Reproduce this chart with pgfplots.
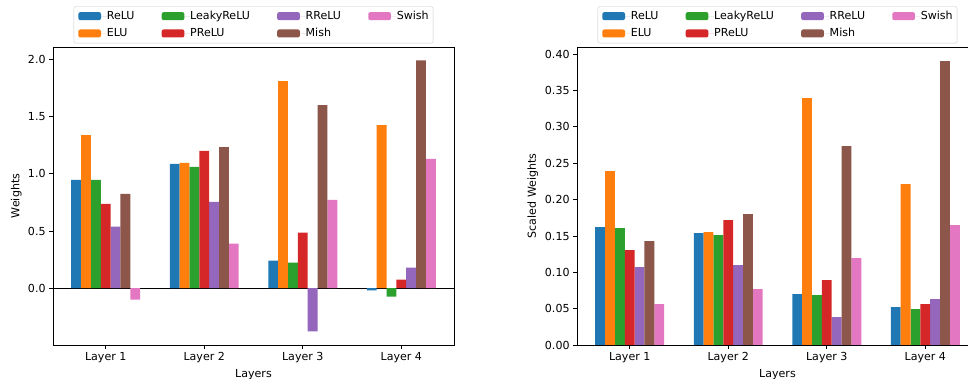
\documentclass[border=0pt]{standalone}
\usepackage{pgfplots}
\pgfplotsset{compat=1.18}
\usepackage{fontspec}
\setmainfont{DejaVu Sans}
\definecolor{cReLU}{HTML}{1F77B4}
\definecolor{cELU}{HTML}{FF7F0E}
\definecolor{cLeaky}{HTML}{2CA02C}
\definecolor{cPReLU}{HTML}{D62728}
\definecolor{cRReLU}{HTML}{9467BD}
\definecolor{cMish}{HTML}{8C564B}
\definecolor{cSwish}{HTML}{E377C2}
\pgfplotsset{
  mystyle/.style={
    scale only axis, width=401bp, height=298bp,
    xmin=-0.535, xmax=3.535,
    xtick={0,1,2,3}, xticklabels={Layer 1,Layer 2,Layer 3,Layer 4},
    tick align=outside, tick pos=lower,
    major tick length=3.9bp,
    axis line style={line width=0.9bp},
    every tick/.style={line width=0.9bp, black},
    font=\fontsize{11.1}{13}\selectfont,
    tick label style={font=\fontsize{11.1}{13}\selectfont},
    label style={font=\fontsize{11.1}{13}\selectfont},
    /pgf/number format/assume math mode=true,
    ybar, bar width=0.1,
    xlabel={Layers},
    legend columns=4,
    legend cell align=left,
    legend image code/.code={\fill[##1] (0bp,-4bp) rectangle (22.7bp,4bp); \path (0bp,0bp) -- (28.5bp,0bp);},
    legend style={at={(0.5,1)}, anchor=south, yshift=3.7bp,
      draw=black!20, rounded corners=2bp, fill=white,
      font=\fontsize{11.1}{13}\selectfont,
      nodes={inner sep=0bp, text height=8.2bp, text depth=2.3bp, font=\fontsize{11.1}{13}\selectfont},
      /tikz/every even column/.append style={column sep=27.2bp},
      row sep=6.8bp,
      inner xsep=4.4bp, inner ysep=4.4bp},
  },
}
\begin{document}
\begin{tikzpicture}
\useasboundingbox (0,0) rectangle (968bp,379bp);
\begin{scope}
\clip (0,0) rectangle (968bp,379bp);
\begin{axis}[mystyle, at={(53bp,34bp)}, anchor=south west,
  ymin=-0.497, ymax=2.11,
  ytick={0,0.5,1,1.5,2},
  yticklabel style={/pgf/number format/.cd, fixed, fixed zerofill, precision=1},
  ylabel={Weights}, ylabel shift=-4.5bp,
  extra y ticks={0}, extra y tick style={grid=major, major grid style={black, line width=0.9bp}, yticklabel=\empty, major tick length=0pt},
]
\addplot[fill=cReLU, draw=none, bar shift=-0.3] coordinates {(0,0.948) (1,1.087) (2,0.241) (3,-0.020)};
\addplot[fill=cLeaky, draw=none, bar shift=-0.1] coordinates {(0,0.948) (1,1.061) (2,0.224) (3,-0.073)};
\addplot[fill=cRReLU, draw=none, bar shift=0.1] coordinates {(0,0.538) (1,0.756) (2,-0.378) (3,0.180)};
\addplot[fill=cSwish, draw=none, bar shift=0.3] coordinates {(0,-0.099) (1,0.390) (2,0.773) (3,1.131)};
\addplot[fill=cELU, draw=none, bar shift=-0.2] coordinates {(0,1.340) (1,1.096) (2,1.811) (3,1.427)};
\addplot[fill=cPReLU, draw=none, bar shift=0] coordinates {(0,0.738) (1,1.201) (2,0.485) (3,0.076)};
\addplot[fill=cMish, draw=none, bar shift=0.2] coordinates {(0,0.826) (1,1.235) (2,1.602) (3,1.994)};
\legend{ReLU,LeakyReLU,RReLU,Swish,ELU,PReLU,Mish}
\end{axis}
\begin{axis}[mystyle, at={(577bp,34bp)}, anchor=south west,
  ymin=0, ymax=0.41,
  ytick={0,0.05,0.1,0.15,0.2,0.25,0.3,0.35,0.4},
  yticklabel style={/pgf/number format/.cd, fixed, fixed zerofill, precision=2},
  ylabel={Scaled Weights},
]
\addplot[fill=cReLU, draw=none, bar shift=-0.3] coordinates {(0,0.1622) (1,0.1540) (2,0.0701) (3,0.0522)};
\addplot[fill=cLeaky, draw=none, bar shift=-0.1] coordinates {(0,0.1608) (1,0.1512) (2,0.0687) (3,0.0495)};
\addplot[fill=cRReLU, draw=none, bar shift=0.1] coordinates {(0,0.1072) (1,0.1100) (2,0.0385) (3,0.0632)};
\addplot[fill=cSwish, draw=none, bar shift=0.3] coordinates {(0,0.0564) (1,0.0770) (2,0.1196) (3,0.1649)};
\addplot[fill=cELU, draw=none, bar shift=-0.2] coordinates {(0,0.2392) (1,0.1553) (2,0.3395) (3,0.2213)};
\addplot[fill=cPReLU, draw=none, bar shift=0] coordinates {(0,0.1306) (1,0.1718) (2,0.0893) (3,0.0564)};
\addplot[fill=cMish, draw=none, bar shift=0.2] coordinates {(0,0.1430) (1,0.1801) (2,0.2735) (3,0.3904)};
\legend{ReLU,LeakyReLU,RReLU,Swish,ELU,PReLU,Mish}
\end{axis}
\end{scope}
\end{tikzpicture}
\end{document}
